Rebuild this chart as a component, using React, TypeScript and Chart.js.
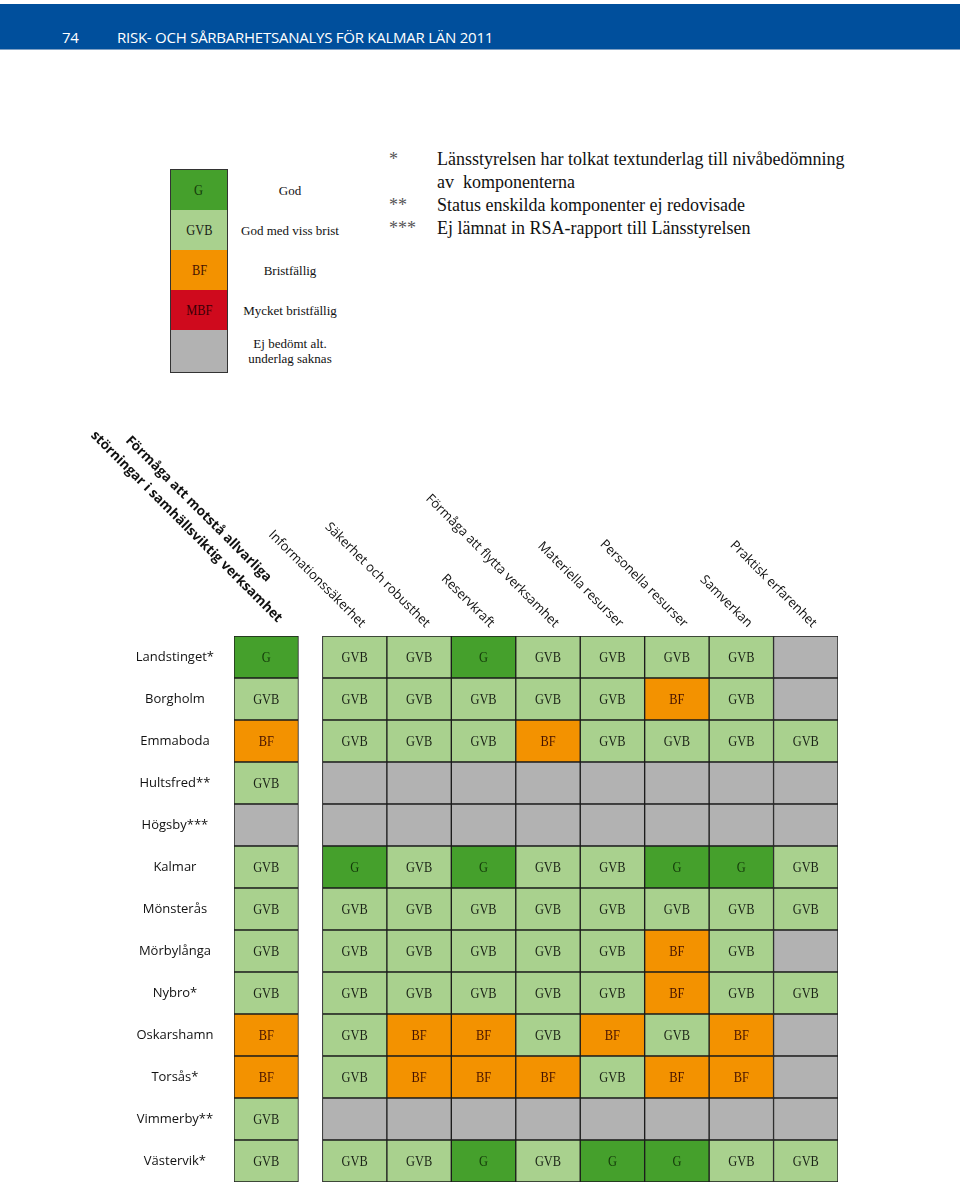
import React, { useEffect, useRef } from "react";
import { Chart, registerables } from "chart.js";

Chart.register(...registerables);

type Status = "G" | "GVB" | "BF" | "MBF" | null;

// Rows (municipalities)
const rowLabels = [
  "Landstinget*",
  "Borgholm",
  "Emmaboda",
  "Hultsfred**",
  "Högsby***",
  "Kalmar",
  "Mönsterås",
  "Mörbylånga",
  "Nybro*",
  "Oskarshamn",
  "Torsås*",
  "Vimmerby**",
  "Västervik*",
];

// Column headers
const columnLabels: (string | string[])[] = [
  ["Förmåga att motstå allvarliga", "störningar i samhällsviktig verksamhet"],
  "Informationssäkerhet",
  "Säkerhet och robusthet",
  "Reservkraft",
  "Förmåga att flytta verksamhet",
  "Materiella resurser",
  "Personella resurser",
  "Samverkan",
  "Praktisk erfarenhet",
];

// Status per column (row order as rowLabels)
const formagaMotsta: Status[] = ["G", "GVB", "BF", "GVB", null, "GVB", "GVB", "GVB", "GVB", "BF", "BF", "GVB", "GVB"];
const informationssakerhet: Status[] = ["GVB", "GVB", "GVB", null, null, "G", "GVB", "GVB", "GVB", "GVB", "GVB", null, "GVB"];
const sakerhetRobusthet: Status[] = ["GVB", "GVB", "GVB", null, null, "GVB", "GVB", "GVB", "GVB", "BF", "BF", null, "GVB"];
const reservkraft: Status[] = ["G", "GVB", "GVB", null, null, "G", "GVB", "GVB", "GVB", "BF", "BF", null, "G"];
const formagaFlytta: Status[] = ["GVB", "GVB", "BF", null, null, "GVB", "GVB", "GVB", "GVB", "GVB", "BF", null, "GVB"];
const materiellaResurser: Status[] = ["GVB", "GVB", "GVB", null, null, "GVB", "GVB", "GVB", "GVB", "BF", "GVB", null, "G"];
const personellaResurser: Status[] = ["GVB", "BF", "GVB", null, null, "G", "GVB", "BF", "BF", "GVB", "BF", null, "G"];
const samverkan: Status[] = ["GVB", "GVB", "GVB", null, null, "G", "GVB", "GVB", "GVB", "BF", "BF", null, "GVB"];
const praktiskErfarenhet: Status[] = [null, null, "GVB", null, null, "GVB", "GVB", null, "GVB", null, null, null, "GVB"];

const columns: Status[][] = [
  formagaMotsta,
  informationssakerhet,
  sakerhetRobusthet,
  reservkraft,
  formagaFlytta,
  materiellaResurser,
  personellaResurser,
  samverkan,
  praktiskErfarenhet,
];

// Legend
const legendCodes: Status[] = ["G", "GVB", "BF", "MBF", null];
const legendTexts: string[][] = [
  ["God"],
  ["God med viss brist"],
  ["Bristfällig"],
  ["Mycket bristfällig"],
  ["Ej bedömt alt.", "underlag saknas"],
];

// Footnotes
const footnoteMarks = ["*", "", "**", "***"];
const footnoteTexts = [
  "Länsstyrelsen har tolkat textunderlag till nivåbedömning",
  "av  komponenterna",
  "Status enskilda komponenter ej redovisade",
  "Ej lämnat in RSA-rapport till Länsstyrelsen",
];

const pageNumber = "74";
const pageTitle = "RISK- OCH SÅRBARHETSANALYS FÖR KALMAR LÄN 2011";

const fillColors: Record<string, string> = {
  G: "#45a02c",
  GVB: "#a9d18e",
  BF: "#f39200",
  MBF: "#cf0a1d",
  none: "#b2b2b2",
};
const textColors: Record<string, string> = {
  G: "#143a0a",
  GVB: "#1a2216",
  BF: "#451200",
  MBF: "#3a0005",
};

const GAP = 0.372;
const colStart = (i: number) => (i === 0 ? 0 : i + GAP);
const colorOf = (s: Status) => fillColors[s ?? "none"];

const cellTextPlugin = {
  id: "cellText",
  afterDatasetsDraw(chart: any) {
    const ctx = chart.ctx as CanvasRenderingContext2D;
    columns.forEach((col, di) => {
      const meta = chart.getDatasetMeta(di);
      meta.data.forEach((el: any, ri: number) => {
        const v = col[ri];
        if (!v) return;
        const p = el.getCenterPoint();
        ctx.save();
        ctx.font = '15.5px "Liberation Serif"';
        ctx.textAlign = "center";
        ctx.textBaseline = "middle";
        ctx.fillStyle = textColors[v];
        ctx.translate(p.x, p.y + 1);
        ctx.scale(0.8, 1);
        ctx.fillText(v, 0, 0);
        ctx.restore();
      });
    });
  },
};

const columnHeaderPlugin = {
  id: "columnHeaders",
  afterDraw(chart: any) {
    const ctx = chart.ctx as CanvasRenderingContext2D;
    const x = chart.scales.x;
    const top = chart.chartArea.top;
    columnLabels.forEach((lab, i) => {
      const cx = x.getPixelForValue(colStart(i) + 0.5);
      ctx.save();
      ctx.fillStyle = "#111";
      ctx.textBaseline = "alphabetic";
      if (Array.isArray(lab)) {
        ctx.translate(cx + 11, top - 13);
        ctx.rotate(Math.PI / 4);
        ctx.font = 'bold 13.5px "Open Sans"';
        const last = lab[lab.length - 1];
        const w = ctx.measureText(last).width;
        lab.forEach((line, li) => {
          if (li === lab.length - 1) {
            ctx.textAlign = "right";
            ctx.fillText(line, 0, 0);
          } else {
            ctx.textAlign = "center";
            ctx.fillText(line, -w / 2 - 4, (li - (lab.length - 1)) * 21);
          }
        });
      } else {
        ctx.translate(cx + 6, top - 8);
        ctx.rotate(Math.PI / 4);
        ctx.font = '13px "Open Sans"';
        ctx.textAlign = "right";
        ctx.fillText(lab, 0, 0);
      }
      ctx.restore();
    });
  },
};

export default function App() {
  const ref = useRef<HTMLCanvasElement>(null);

  useEffect(() => {
    document.body.style.margin = "0";
    const datasets = columns.map((col, i) => ({
      label: Array.isArray(columnLabels[i]) ? (columnLabels[i] as string[]).join(" ") : (columnLabels[i] as string),
      data: col.map(() => [colStart(i), colStart(i) + 1] as [number, number]),
      backgroundColor: col.map((s) => colorOf(s)),
      borderColor: "#1b1b1b",
      borderWidth: 1,
      borderSkipped: false as const,
      grouped: false,
      barPercentage: 1,
      categoryPercentage: 1,
    }));
    const chart = new Chart(ref.current as HTMLCanvasElement, {
      type: "bar",
      data: { labels: rowLabels, datasets: datasets as any },
      options: {
        indexAxis: "y",
        animation: false,
        responsive: false,
        layout: { padding: { left: 104, right: 122, top: 256, bottom: 2 } },
        plugins: { legend: { display: false }, tooltip: { enabled: false } },
        scales: {
          x: { type: "linear", min: 0, max: columns.length + GAP, display: false },
          y: {
            type: "category",
            grid: { display: false, drawTicks: false },
            border: { display: false },
            ticks: {
              crossAlign: "center",
              padding: 20,
              color: "#111",
              font: { family: '"Open Sans"', size: 13 },
            },
            afterFit: (s: any) => {
              s.width = 130;
              s.paddingTop = 0;
              s.paddingBottom = 0;
            },
          },
        },
      } as any,
      plugins: [cellTextPlugin, columnHeaderPlugin],
    });
    return () => chart.destroy();
  }, []);

  return (
    <div style={{ position: "relative", width: 960, height: 1184, overflow: "hidden", background: "#fff" }}>
      {/* Header band */}
      <div
        style={{
          position: "absolute",
          left: 0,
          top: 4,
          width: 960,
          height: 45,
          background: "#004f9c",
          borderBottom: "1px solid #7fa0c4",
        }}
      >
        <span
          style={{
            position: "absolute",
            left: 62,
            top: 23,
            color: "#fff",
            font: '15px "Open Sans"',
            lineHeight: "20px",
            letterSpacing: "-0.3px",
          }}
        >
          {pageNumber}
        </span>
        <span
          style={{
            position: "absolute",
            left: 117,
            top: 23,
            color: "#fff",
            font: '15px "Open Sans"',
            lineHeight: "20px",
            letterSpacing: "-0.25px",
            whiteSpace: "nowrap",
          }}
        >
          {pageTitle}
        </span>
      </div>

      {/* Legend */}
      <div
        style={{
          position: "absolute",
          left: 170,
          top: 169,
          width: 56,
          border: "1px solid #333",
        }}
      >
        {legendCodes.map((c, i) => (
          <div
            key={i}
            style={{
              height: i === legendCodes.length - 1 ? 42 : 40,
              background: colorOf(c),
              color: c ? textColors[c] : "#000",
              font: '15.5px "Liberation Serif"',
              display: "flex",
              alignItems: "center",
              justifyContent: "center",
            }}
          >
            <span style={{ display: "inline-block", transform: "scaleX(0.8)" }}>{c ?? ""}</span>
          </div>
        ))}
      </div>
      {legendTexts.map((lines, i) => (
        <div
          key={i}
          style={{
            position: "absolute",
            left: 220,
            width: 140,
            top: 170 + i * 40,
            height: i === legendTexts.length - 1 ? 42 : 40,
            display: "flex",
            flexDirection: "column",
            alignItems: "center",
            justifyContent: "center",
            font: '13px "Liberation Serif"',
            lineHeight: "15px",
            color: "#111",
          }}
        >
          {lines.map((l, j) => (
            <div key={j}>{l}</div>
          ))}
        </div>
      ))}

      {/* Footnotes */}
      <div style={{ position: "absolute", left: 389, top: 148, font: '18px "Liberation Serif"', lineHeight: "23px", color: "#111" }}>
        {footnoteTexts.map((t, i) => (
          <div key={i} style={{ position: "relative", height: 23, whiteSpace: "pre" }}>
            <span style={{ position: "absolute", left: 0, color: "#555" }}>{footnoteMarks[i]}</span>
            <span style={{ position: "absolute", left: 48 }}>{t}</span>
          </div>
        ))}
      </div>

      {/* Chart */}
      <canvas
        ref={ref}
        width={960}
        height={804}
        style={{ position: "absolute", left: 0, top: 380, width: 960, height: 804, display: "block" }}
      />
    </div>
  );
}
